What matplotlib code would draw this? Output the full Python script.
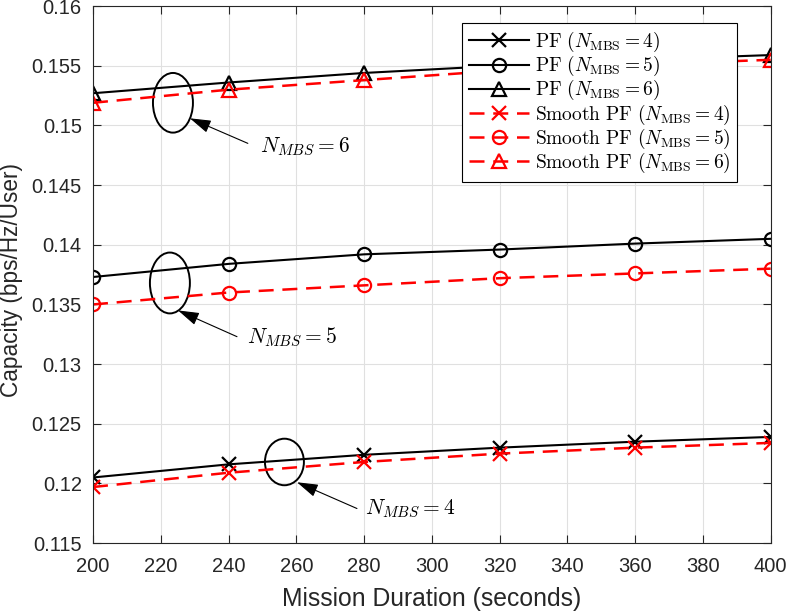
import matplotlib.pyplot as plt
from matplotlib.patches import Ellipse

plt.rcParams['mathtext.fontset'] = 'cm'
plt.rcParams['font.family'] = ['Liberation Sans', 'DejaVu Sans']

duration = [200, 240, 280, 320, 360, 400]

pf_4 = [0.1205, 0.1216, 0.1224, 0.1230, 0.1235, 0.1239]
pf_5 = [0.1373, 0.1384, 0.1392, 0.1396, 0.1401, 0.1405]
pf_6 = [0.1527, 0.1536, 0.1544, 0.1550, 0.1555, 0.1559]
smooth_4 = [0.1197, 0.1209, 0.1218, 0.1225, 0.1230, 0.1234]
smooth_5 = [0.1350, 0.1360, 0.1366, 0.1372, 0.1376, 0.1380]
smooth_6 = [0.1519, 0.1530, 0.1538, 0.1546, 0.1551, 0.1555]

dark = '#262626'

fig = plt.figure(figsize=(7.88, 6.13), dpi=100)
ax = fig.add_axes([0.118, 0.114, 0.860, 0.876])

mk = dict(markersize=9.5, markerfacecolor='none', markeredgewidth=1.6)
ax.plot(duration, pf_4, 'k-', marker='x', lw=1.5, label=r'$\mathrm{PF}\ (N_{\mathrm{MBS}}=4)$', **mk)
ax.plot(duration, pf_5, 'k-', marker='o', lw=1.5, label=r'$\mathrm{PF}\ (N_{\mathrm{MBS}}=5)$', **mk)
ax.plot(duration, pf_6, 'k-', marker='^', lw=1.5, label=r'$\mathrm{PF}\ (N_{\mathrm{MBS}}=6)$', **mk)
ax.plot(duration, smooth_4, 'r--', marker='x', lw=1.8, dashes=(6, 3.5),
        label=r'$\mathrm{Smooth\ PF}\ (N_{\mathrm{MBS}}=4)$', **mk)
ax.plot(duration, smooth_5, 'r--', marker='o', lw=1.8, dashes=(6, 3.5),
        label=r'$\mathrm{Smooth\ PF}\ (N_{\mathrm{MBS}}=5)$', **mk)
ax.plot(duration, smooth_6, 'r--', marker='^', lw=1.8, dashes=(6, 3.5),
        label=r'$\mathrm{Smooth\ PF}\ (N_{\mathrm{MBS}}=6)$', **mk)

# ellipse (centre, width, height), label text position, arrow tail, arrow tip
groups = [((223.6, 0.1519), 11.8, 0.0050, r'$N_{MBS}=6$', (249.3, 0.1483), (245.7, 0.1485), (228.6, 0.1506)),
          ((222.7, 0.1368), 11.8, 0.0051, r'$N_{MBS}=5$', (245.4, 0.1323), (242.5, 0.1323), (225.1, 0.1345)),
          ((256.5, 0.1218), 11.5, 0.0039, r'$N_{MBS}=4$', (280.2, 0.1179), (277.9, 0.1179), (260.2, 0.1201))]
for c, w, h, txt, tpos, tail, tip in groups:
    ax.add_patch(Ellipse(c, w, h, fill=False, ec='k', lw=1.4))
    ax.text(tpos[0], tpos[1], txt, fontsize=15.5, va='center', ha='left')
    ax.annotate('', xy=tip, xytext=tail,
                arrowprops=dict(arrowstyle='-|>,head_length=1.3,head_width=0.4',
                                color='k', lw=0.8, shrinkA=0, shrinkB=0))

ax.set_xlim(200, 400)
ax.set_ylim(0.115, 0.16)
ax.set_xticks(range(200, 401, 20))
ax.set_yticks([0.115, 0.12, 0.125, 0.13, 0.135, 0.14, 0.145, 0.15, 0.155, 0.16])
ax.set_yticklabels(['0.115', '0.12', '0.125', '0.13', '0.135', '0.14', '0.145', '0.15', '0.155', '0.16'])
ax.tick_params(direction='in', labelsize=14.5, top=True, right=True, length=6,
               color=dark, labelcolor=dark)
ax.tick_params(axis='x', pad=10)
ax.tick_params(axis='y', pad=8)
ax.grid(True, color='#e0e0e0', lw=0.8)
ax.set_axisbelow(True)
for s in ax.spines.values():
    s.set_linewidth(0.8)
    s.set_color(dark)

ax.set_xlabel('Mission Duration (seconds)', fontsize=17.8, color=dark)
ax.set_ylabel('Capacity (bps/Hz/User)', fontsize=16.3, color=dark)
ax.xaxis.set_label_coords(0.5, -0.082)
ax.yaxis.set_label_coords(-0.103, 0.49)

leg = ax.legend(loc='upper right', bbox_to_anchor=(0.951, 0.968), fontsize=14,
                fancybox=False, edgecolor='k', framealpha=1, handlelength=3.1,
                labelspacing=0.0, borderaxespad=0.0, handletextpad=0.3, borderpad=0.35)
leg.get_frame().set_linewidth(0.8)

fig.savefig('out.png')
